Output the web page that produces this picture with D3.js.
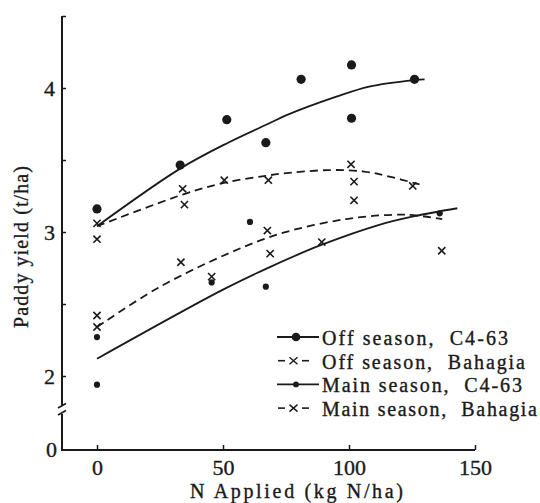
<!DOCTYPE html>
<html lang="en">
<head>
<meta charset="utf-8">
<title>Paddy yield vs N applied</title>
<script src="https://cdn.jsdelivr.net/npm/d3@7"></script>
<style>
  body { margin: 0; background: #fff; }
  text { font-family: "Liberation Serif", "Times New Roman", serif; fill: #1a1a1a; stroke: #1a1a1a; stroke-width: 0.35px; }
</style>
</head>
<body>
<script>
// observed points (N applied, yield)
var offC4X = [0, 33, 51.5, 67, 81, 101, 101, 126];
var offC4Y = [3.16, 3.465, 3.78, 3.62, 4.06, 4.16, 3.79, 4.06];

var offBahX = [0, 0, 34, 34.7, 50.5, 68, 100.8, 102, 102, 125.3];
var offBahY = [3.06, 2.95, 3.30, 3.19, 3.36, 3.36, 3.47, 3.35, 3.22, 3.32];

var mainC4X = [0, 0, 45.5, 60.7, 67, 136];
var mainC4Y = [2.27, 1.94, 2.65, 3.07, 2.62, 3.13];

var mainBahX = [0, 0, 33.3, 45.5, 67.6, 68.7, 89.2, 136.8];
var mainBahY = [2.42, 2.34, 2.79, 2.69, 3.01, 2.85, 2.93, 2.87];

// fitted curves
var offC4FitX = [0, 33, 52, 69, 75, 95, 108, 126, 130];
var offC4FitY = [3.04, 3.44, 3.62, 3.76, 3.81, 3.94, 4.01, 4.055, 4.06];

var offBahFitX = [0, 34, 50, 67, 73, 92, 106, 116, 128];
var offBahFitY = [3.04, 3.26, 3.34, 3.39, 3.405, 3.43, 3.42, 3.385, 3.33];

var mainC4FitX = [0, 50, 69, 89, 112, 126, 143];
var mainC4FitY = [2.12, 2.60, 2.76, 2.91, 3.05, 3.11, 3.165];

var mainBahFitX = [0, 24, 52, 73, 99, 122, 137];
var mainBahFitY = [2.34, 2.61, 2.85, 2.99, 3.09, 3.12, 3.09];

var xTicks = [0, 50, 100, 150];
var yTicks = [2, 2.5, 3, 3.5, 4, 4.5];
var yTickLabels = [2, 3, 4];

var legendNames = ["Off season,  C4-63", "Off season,  Bahagia", "Main season,  C4-63", "Main season,  Bahagia"];

var w = 540, h = 503;
var ink = "#1a1a1a";

var svg = d3.select("body").append("svg")
  .attr("width", w).attr("height", h);

var x = d3.scaleLinear().domain([0, 150]).range([97, 475]);
// broken axis: 0 sits at the bottom, then the scale jumps to ~1.75
var y = d3.scaleLinear().domain([0, 1.75, 4.5]).range([450, 412, 16]);

var axisLeftX = 62;

// ---- axes
svg.append("line")
  .attr("x1", axisLeftX).attr("x2", x(150))
  .attr("y1", y(0)).attr("y2", y(0))
  .attr("stroke", ink).attr("stroke-width", 2);

// y axis in two parts with a break
svg.append("line")
  .attr("x1", axisLeftX).attr("x2", axisLeftX)
  .attr("y1", y(0) + 1).attr("y2", 414)
  .attr("stroke", ink).attr("stroke-width", 2);
svg.append("line")
  .attr("x1", axisLeftX).attr("x2", axisLeftX)
  .attr("y1", 406).attr("y2", y(4.5))
  .attr("stroke", ink).attr("stroke-width", 2);
[406, 413].forEach(function(by) {
  svg.append("line")
    .attr("x1", axisLeftX - 4).attr("y1", by + 2)
    .attr("x2", axisLeftX + 4).attr("y2", by - 2.5)
    .attr("stroke", ink).attr("stroke-width", 1.6);
});

var xAxis = d3.axisBottom(x).tickValues(xTicks).tickSize(-5).tickPadding(9);
var gx = svg.append("g").attr("transform", "translate(0," + y(0) + ")").call(xAxis);
gx.select(".domain").remove();
gx.selectAll(".tick line").attr("stroke", ink).attr("stroke-width", 1.5);
gx.selectAll(".tick text").attr("font-size", 22).attr("fill", ink)
  .attr("font-family", "Liberation Serif");

var yAxis = d3.axisLeft(y).tickValues(yTicks).tickSize(-4).tickPadding(7)
  .tickFormat(function(d) { return yTickLabels.indexOf(d) >= 0 ? d : ""; });
var gy = svg.append("g").attr("transform", "translate(" + axisLeftX + ",0)").call(yAxis);
gy.select(".domain").remove();
gy.selectAll(".tick line").attr("stroke", ink).attr("stroke-width", 1.5);
gy.selectAll(".tick text").attr("font-size", 22).attr("fill", ink)
  .attr("font-family", "Liberation Serif").attr("dy", "0.34em");

svg.append("text")
  .attr("x", axisLeftX - 5).attr("y", y(0) + 7)
  .attr("text-anchor", "end").attr("font-size", 22)
  .text("0");

// axis titles
svg.append("text")
  .attr("x", 190).attr("y", 498)
  .attr("font-size", 20)
  .attr("textLength", 213).attr("lengthAdjust", "spacing")
  .text("N Applied (kg N/ha)");

svg.append("text")
  .attr("transform", "translate(28,328) rotate(-90)")
  .attr("font-size", 20)
  .attr("textLength", 162).attr("lengthAdjust", "spacing")
  .text("Paddy yield (t/ha)");

// ---- fitted curves
function curve(xs, ys, dashed) {
  var pts = xs.map(function(d, i) { return [d, ys[i]]; });
  var line = d3.line()
    .x(function(d) { return x(d[0]); })
    .y(function(d) { return y(d[1]); })
    .curve(d3.curveCatmullRom);
  svg.append("path")
    .attr("d", line(pts))
    .attr("fill", "none")
    .attr("stroke", ink)
    .attr("stroke-width", 1.8)
    .attr("stroke-dasharray", dashed ? "8,5" : null);
}
curve(offC4FitX, offC4FitY, false);
curve(offBahFitX, offBahFitY, true);
curve(mainC4FitX, mainC4FitY, false);
curve(mainBahFitX, mainBahFitY, true);

// ---- markers
function dots(xs, ys, r) {
  svg.append("g").selectAll("circle")
    .data(xs.map(function(d, i) { return [d, ys[i]]; }))
    .enter().append("circle")
    .attr("cx", function(d) { return x(d[0]); })
    .attr("cy", function(d) { return y(d[1]); })
    .attr("r", r)
    .attr("fill", ink);
}
function crosses(xs, ys, s) {
  svg.append("g").selectAll("path")
    .data(xs.map(function(d, i) { return [d, ys[i]]; }))
    .enter().append("path")
    .attr("d", function(d) {
      var cx = x(d[0]), cy = y(d[1]);
      return "M" + (cx - s) + "," + (cy - s) + "L" + (cx + s) + "," + (cy + s) +
             "M" + (cx - s) + "," + (cy + s) + "L" + (cx + s) + "," + (cy - s);
    })
    .attr("stroke", ink).attr("stroke-width", 1.6).attr("fill", "none");
}
dots(offC4X, offC4Y, 4.6);
crosses(offBahX, offBahY, 3.6);
dots(mainC4X, mainC4Y, 3.1);
crosses(mainBahX, mainBahY, 3.6);

// ---- legend
var legendWidths = [186, 203, 200, 215];
var legend = svg.append("g");
legendNames.forEach(function(name, i) {
  var ry = 337 + i * 23.7;
  var g = legend.append("g");
  if (i % 2 === 0) {
    g.append("line").attr("x1", 277).attr("x2", 319).attr("y1", ry).attr("y2", ry)
      .attr("stroke", ink).attr("stroke-width", 1.8);
    g.append("circle").attr("cx", 296).attr("cy", ry).attr("r", i === 0 ? 4.3 : 2.9).attr("fill", ink);
  } else {
    g.append("line").attr("x1", 278).attr("x2", 285).attr("y1", ry).attr("y2", ry)
      .attr("stroke", ink).attr("stroke-width", 1.6);
    g.append("line").attr("x1", 302).attr("x2", 309).attr("y1", ry).attr("y2", ry)
      .attr("stroke", ink).attr("stroke-width", 1.6);
    g.append("path")
      .attr("d", "M" + 289.5 + "," + (ry - 3.5) + "L" + 297.5 + "," + (ry + 3.5) +
                 "M" + 289.5 + "," + (ry + 3.5) + "L" + 297.5 + "," + (ry - 3.5))
      .attr("stroke", ink).attr("stroke-width", 1.4);
  }
  g.append("text")
    .attr("x", 322).attr("y", ry + 8)
    .attr("font-size", 20)
    .attr("textLength", legendWidths[i]).attr("lengthAdjust", "spacing")
    .attr("xml:space", "preserve")
    .style("white-space", "pre")
    .text(name);
});
</script>
</body>
</html>
